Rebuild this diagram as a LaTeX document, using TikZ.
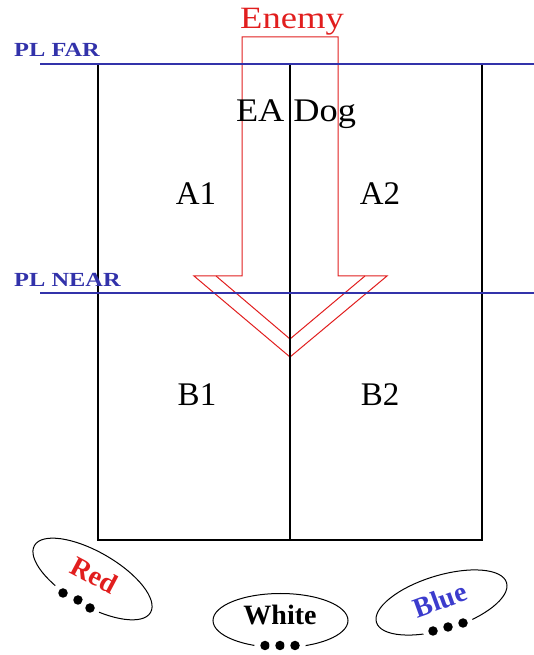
\documentclass[tikz,border=0pt]{standalone}
\usepackage{fontspec}
\setmainfont{Liberation Serif}
\usepackage{xcolor}
\usepackage{tikz}
\usetikzlibrary{shapes.geometric}

\definecolor{plblue}{RGB}{50,50,170}
\definecolor{squadblue}{RGB}{60,60,205}
\definecolor{enemyred}{RGB}{225,30,30}

\begin{document}
\begin{tikzpicture}[
    x=1pt, y=1pt,
    phase/.style = {draw=plblue, line width=2pt},
    phaselabel/.style = {text=plblue, font=\bfseries\fontsize{20}{20}\selectfont, anchor=base west, inner sep=0pt, xscale=1.22},
    lane/.style = {draw=black, line width=1.1pt},
    area/.style = {font=\fontsize{33}{33}\selectfont, anchor=base, inner sep=0pt},
    enemy/.style = {draw=enemyred, line width=1pt, line join=miter},
    squad/.style = {ellipse, draw=black, line width=1pt, inner sep=0pt, minimum width=135pt, minimum height=54pt},
    squadname/.style = {font=\bfseries\fontsize{28}{28}\selectfont, inner sep=0pt},
    dot/.style = {circle, fill=black, inner sep=0pt, minimum size=9.5pt, preaction={draw=white, line width=11pt}}
]
\useasboundingbox (0,0) rectangle (534,655);

% Enemy axis of advance
\draw [enemy] (242,618) -- (338,618) -- (338,379) -- (387,379) -- (290,298) -- (194,379) -- (242,379) -- cycle;
\draw [enemy] (216,379) -- (290,316) -- (365,379);

% Engagement area
\draw [lane] (98,591) -- (98,115) -- (482,115) -- (482,591);
\draw [lane] (290,591) -- (290,115);

% Phase lines
\draw [phase] (40,591) -- (534,591);
\draw [phase] (40,362) -- (534,362);
\node (plfar) [phaselabel] at (14,598) {PL FAR};
\node (plnear) [phaselabel] at (14,368) {PL NEAR};

% Labels
\node (enemytxt) [area, font=\fontsize{31}{31}\selectfont, text=enemyred, xscale=1.18] at (292,626) {Enemy};
\node (eadog) [area, xscale=1.1] at (296,533) {EA Dog};
\node (a1) [area] at (196,450) {A1};
\node (a2) [area] at (380,450) {A2};
\node (b1) [area] at (197,249) {B1};
\node (b2) [area] at (380,249) {B2};

% Squads
\node (red) [squad, minimum width=134pt, rotate=-30] at (92.5,76) {};
\node (white) [squad] at (280.5,34.5) {};
\node (blue) [squad, minimum width=136pt, rotate=17] at (441.5,52.5) {};
\foreach \px/\py [count=\i] in {63/62, 78/55, 90/47}
    \node (reddot\i) [dot] at (\px,\py) {};
\foreach \px/\py [count=\i] in {265/9.5, 280/9.5, 295/9.5}
    \node (whitedot\i) [dot] at (\px,\py) {};
\foreach \px/\py [count=\i] in {433/24, 448/28, 463/32}
    \node (bluedot\i) [dot] at (\px,\py) {};
\node (redtxt) [squadname, text=enemyred, rotate=-28] at (94,80) {Red};
\node (whitetxt) [squadname] at (280,40) {White};
\node (bluetxt) [squadname, text=squadblue, rotate=20] at (440,55) {Blue};

\end{tikzpicture}
\end{document}
